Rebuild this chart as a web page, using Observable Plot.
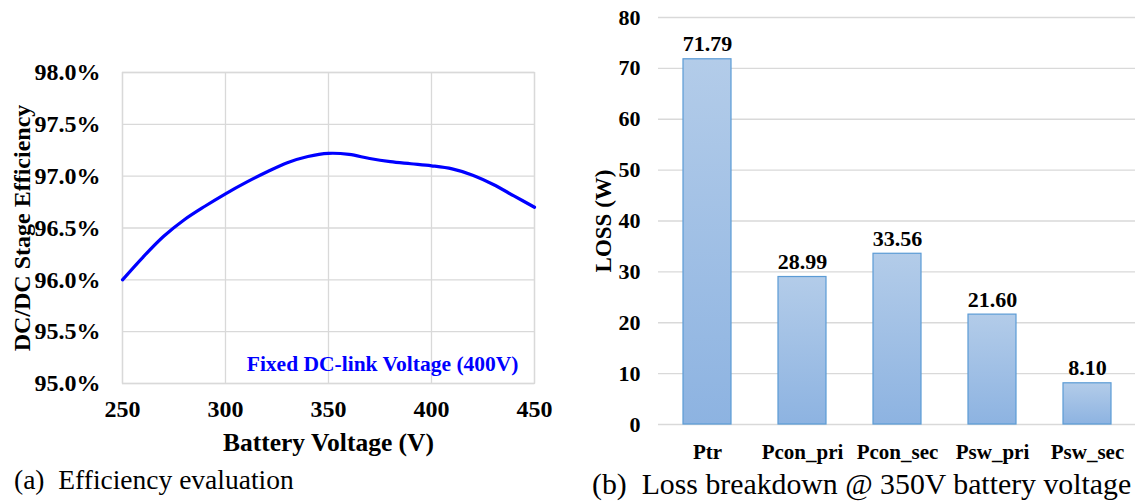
<!DOCTYPE html>
<html>
<head>
<meta charset="utf-8">
<script src="https://cdn.jsdelivr.net/npm/d3@7"></script>
<script src="https://cdn.jsdelivr.net/npm/@observablehq/plot@0.6"></script>
<style>
  html, body { margin: 0; padding: 0; background: #fff; }
  #wrap { position: relative; width: 1135px; height: 503px; overflow: hidden; background: #fff; }
  #left { position: absolute; left: 0; top: 0; }
  #right { position: absolute; left: 560px; top: 0; }
  .cap { position: absolute; font-family: "Liberation Serif", "Times New Roman", serif; line-height: 1; white-space: pre; color: #000; }
</style>
</head>
<body>
<div id="wrap">
  <div id="left"></div>
  <div id="right"></div>
  <div class="cap" id="capA" style="left:14px; top:466px; font-size:27.5px;">(a)  Efficiency evaluation</div>
  <div class="cap" id="capB" style="left:592px; top:469px; font-size:29.8px;">(b)  Loss breakdown @ 350V battery voltage</div>
</div>
<script>
// ---- Data: efficiency vs battery voltage ----
const voltage = [250, 260, 270, 280, 290, 300, 310, 320, 330, 340, 350, 360, 370, 380, 390, 400, 410, 420, 430, 440, 450];
const efficiency = [96.00, 96.22, 96.42, 96.58, 96.71, 96.83, 96.94, 97.04, 97.13, 97.19, 97.22, 97.21, 97.17, 97.14, 97.12, 97.10, 97.07, 97.01, 96.92, 96.81, 96.70];
const voltTicks = [250, 300, 350, 400, 450];
const effTicks = [95.0, 95.5, 96.0, 96.5, 97.0, 97.5, 98.0];
const annotation = ["Fixed DC-link Voltage (400V)"];
const xTitleA = ["Battery Voltage (V)"];
const yTitleA = ["DC/DC Stage Efficiency"];

// ---- Data: loss breakdown ----
const categories = ["Ptr", "Pcon_pri", "Pcon_sec", "Psw_pri", "Psw_sec"];
const losses = [71.79, 28.99, 33.56, 21.60, 8.10];
const lossLabels = ["71.79", "28.99", "33.56", "21.60", "8.10"];
const lossTicks = [0, 10, 20, 30, 40, 50, 60, 70, 80];
const yTitleB = ["LOSS (W)"];

const effData = voltage.map((v, i) => ({v, e: efficiency[i]}));
const lossData = categories.map((c, i) => ({c, v: losses[i], label: lossLabels[i]}));

const serif = "'Liberation Serif', 'Times New Roman', serif";
const grid = "#d9d9d9";

const left = Plot.plot({
  width: 560, height: 460,
  marginLeft: 122, marginRight: 26, marginTop: 72, marginBottom: 77,
  style: {fontFamily: serif, fontSize: "24px", fontWeight: "bold", color: "#000", background: "transparent"},
  x: {domain: [250, 450]},
  y: {domain: [95, 98]},
  marks: [
    Plot.gridX(voltTicks, {stroke: grid, strokeOpacity: 1, strokeWidth: 1.3}),
    Plot.gridY(effTicks, {stroke: grid, strokeOpacity: 1, strokeWidth: 1.3}),
    Plot.frame({stroke: grid, strokeWidth: 1.3}),
    Plot.axisX(voltTicks, {tickSize: 0, tickPadding: 16, label: null, fontSize: 24}),
    Plot.axisY(effTicks, {tickSize: 0, tickPadding: 22, tickFormat: d => d.toFixed(1) + "%", label: null, fontSize: 24}),
    Plot.text(xTitleA, {frameAnchor: "bottom", dy: 59, fontSize: 25.5, lineAnchor: "middle", textAnchor: "middle"}),
    Plot.text(yTitleA, {frameAnchor: "left", rotate: -90, dx: -100, fontSize: 24, lineAnchor: "middle", textAnchor: "middle"}),
    Plot.line(effData, {x: "v", y: "e", curve: "catmull-rom", stroke: "#0000ff", strokeWidth: 3.2}),
    Plot.text(annotation, {frameAnchor: "bottom-right", dx: -16, dy: -19, fill: "#0000ff", fontSize: 21.5, textAnchor: "end", lineAnchor: "middle"})
  ]
});
document.getElementById("left").appendChild(left);

function gradientDefs() {
  const defs = d3.create("svg:defs");
  const g = defs.append("linearGradient").attr("id", "barGrad").attr("x1", 0).attr("y1", 0).attr("x2", 0).attr("y2", 1);
  g.append("stop").attr("offset", "0%").attr("stop-color", "#b3cce9");
  g.append("stop").attr("offset", "100%").attr("stop-color", "#8db3e1");
  return defs.node();
}

const right = Plot.plot({
  width: 575, height: 470,
  marginLeft: 98, marginRight: 0, marginTop: 17, marginBottom: 46,
  style: {fontFamily: serif, fontSize: "22px", fontWeight: "bold", color: "#000", background: "transparent"},
  x: {domain: categories, paddingInner: 0.5, paddingOuter: 0.25},
  y: {domain: [0, 80]},
  marks: [
    gradientDefs,
    Plot.gridY(lossTicks, {stroke: grid, strokeOpacity: 1, strokeWidth: 1.3}),
    Plot.barY(lossData, {x: "c", y: "v", fill: "url(#barGrad)", stroke: "#5b9bd5", strokeWidth: 1.2}),
    Plot.text(lossData, {x: "c", y: "v", text: "label", dy: -15, fontSize: 22}),
    Plot.axisX({tickSize: 0, tickPadding: 20, label: null, fontSize: 21}),
    Plot.axisY(lossTicks, {tickSize: 0, tickPadding: 18, label: null, fontSize: 22}),
    Plot.text(yTitleB, {frameAnchor: "left", rotate: -90, dx: -55, fontSize: 23, lineAnchor: "middle", textAnchor: "middle"})
  ]
});
document.getElementById("right").appendChild(right);
</script>
</body>
</html>
